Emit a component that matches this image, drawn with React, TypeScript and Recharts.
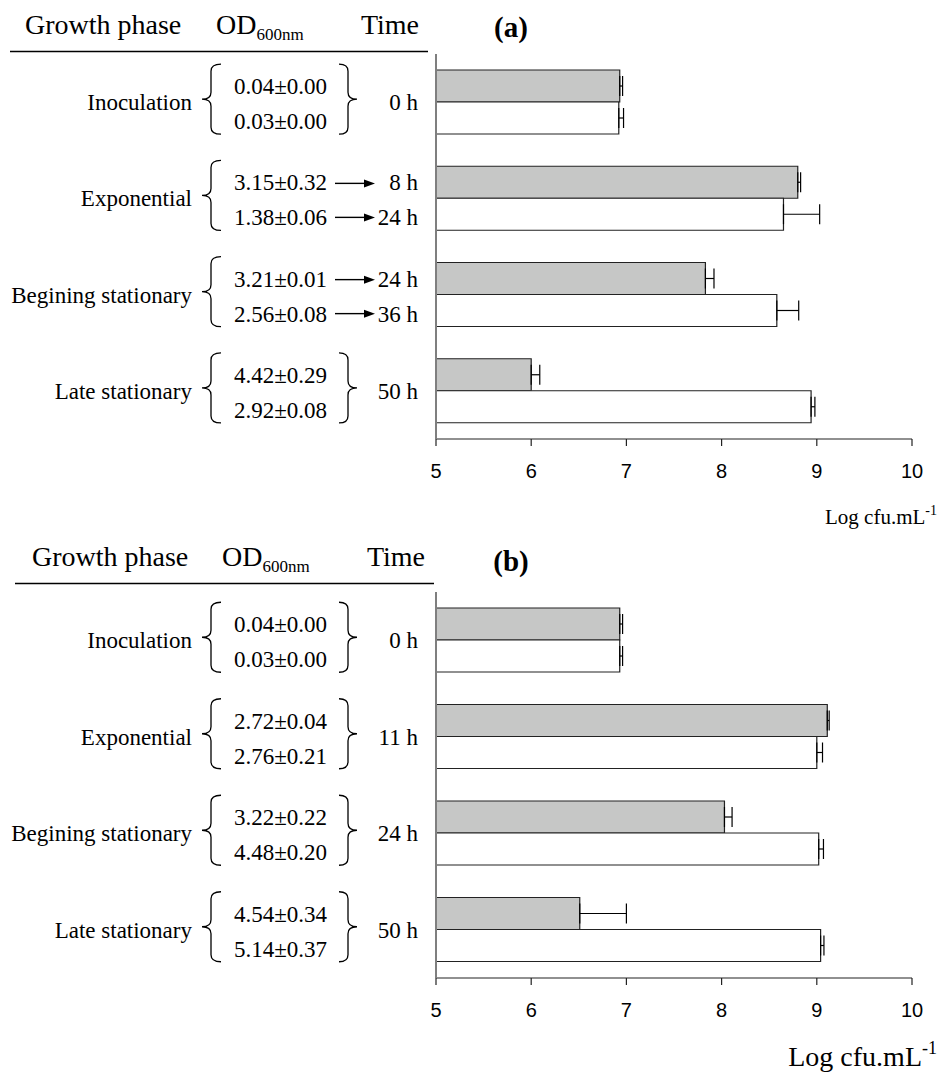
import React from 'react';
import { BarChart, Bar, XAxis, YAxis, ErrorBar } from 'recharts';

// ---------- data ----------
const phases = ['Inoculation', 'Exponential', 'Begining stationary', 'Late stationary'];
const xTicks = [5, 6, 7, 8, 9, 10];

// panel (a)
const odA1 = ['0.04±0.00', '3.15±0.32', '3.21±0.01', '4.42±0.29'];
const odA2 = ['0.03±0.00', '1.38±0.06', '2.56±0.08', '2.92±0.08'];
const timeA1 = ['0 h', '8 h', '24 h', '50 h'];
const timeA2 = ['0 h', '24 h', '36 h', '50 h'];
const grayA = [6.93, 8.8, 7.83, 6.0];
const grayErrA = [0.03, 0.03, 0.09, 0.09];
const whiteA = [6.92, 8.65, 8.58, 8.94];
const whiteErrA = [0.05, 0.38, 0.23, 0.04];

// panel (b)
const odB1 = ['0.04±0.00', '2.72±0.04', '3.22±0.22', '4.54±0.34'];
const odB2 = ['0.03±0.00', '2.76±0.21', '4.48±0.20', '5.14±0.37'];
const timeB1 = ['0 h', '11 h', '24 h', '50 h'];
const timeB2 = ['0 h', '11 h', '24 h', '50 h'];
const grayB = [6.93, 9.11, 8.03, 6.51];
const grayErrB = [0.03, 0.02, 0.08, 0.49];
const whiteB = [6.93, 9.0, 9.02, 9.04];
const whiteErrB = [0.03, 0.06, 0.05, 0.035];

const SERIF = '"Liberation Serif", "Times New Roman", serif';
const SANS = '"Liberation Sans", Arial, sans-serif';

function buildRows(gray: number[], grayErr: number[], white: number[], whiteErr: number[]) {
  return phases.map((p, i) => ({
    phase: p,
    gray: gray[i],
    grayErr: [0, grayErr[i]],
    white: white[i],
    whiteErr: [0, whiteErr[i]],
  }));
}

function bracePath(hookX: number, stemX: number, tipX: number, y0: number, y1: number) {
  const ym = (y0 + y1) / 2;
  const r = 7;
  return `M${hookX},${y0} Q${stemX},${y0} ${stemX},${y0 + r} L${stemX},${ym - r} Q${stemX},${ym} ${tipX},${ym} Q${stemX},${ym} ${stemX},${ym + r} L${stemX},${y1 - r} Q${stemX},${y1} ${hookX},${y1}`;
}

function Arrow({ y }: { y: number }) {
  const x0 = 335;
  const x1 = 375;
  return (
    <g>
      <line x1={x0} y1={y} x2={x1 - 8} y2={y} stroke="#000" strokeWidth={1.4} />
      <polygon points={`${x1},${y} ${x1 - 11},${y - 4} ${x1 - 11},${y + 4}`} fill="#000" />
    </g>
  );
}

function makeTick(od1: string[], od2: string[], t1: string[], t2: string[]) {
  return (props: any) => {
    const { payload } = props;
    const i = phases.indexOf(payload.value);
    const c = typeof props.y === 'number' ? props.y : payload.coordinate;
    const same = t1[i] === t2[i];
    const ts = { fontFamily: SERIF, fontSize: 23, fill: '#000' } as const;
    return (
      <g>
        <text x={192} y={c + 8} textAnchor="end" {...ts}>{phases[i]}</text>
        <path d={bracePath(221, 211, 202, c - 38, c + 32)} fill="none" stroke="#000" strokeWidth={1.3} />
        <text x={234} y={c - 8} {...ts}>{od1[i]}</text>
        <text x={234} y={c + 27} {...ts}>{od2[i]}</text>
        {same ? (
          <g>
            <path d={bracePath(339, 348, 357, c - 38, c + 32)} fill="none" stroke="#000" strokeWidth={1.3} />
            <text x={418} y={c + 8} textAnchor="end" {...ts}>{t1[i]}</text>
          </g>
        ) : (
          <g>
            <Arrow y={c - 15} />
            <Arrow y={c + 19} />
            <text x={418} y={c - 8} textAnchor="end" {...ts}>{t1[i]}</text>
            <text x={418} y={c + 27} textAnchor="end" {...ts}>{t2[i]}</text>
          </g>
        )}
      </g>
    );
  };
}

function Panel(props: {
  rows: any[];
  od1: string[];
  od2: string[];
  t1: string[];
  t2: string[];
  top: number;
  height: number;
  mt: number;
  mb: number;
}) {
  const { rows, od1, od2, t1, t2, top, height, mt, mb } = props;
  return (
    <div style={{ position: 'absolute', left: 0, top }}>
      <BarChart
        width={939}
        height={height}
        data={rows}
        layout="vertical"
        margin={{ top: mt, right: 27, bottom: mb, left: 435 }}
        barGap={0}
        barSize={32}
      >
        <XAxis
          type="number"
          domain={[5, 10]}
          ticks={xTicks}
          allowDataOverflow
          interval={0}
          height={30}
          tickSize={7}
          tickMargin={18}
          axisLine={{ stroke: '#222', strokeWidth: 1.2 }}
          tickLine={{ stroke: '#222', strokeWidth: 1.2 }}
          tick={{ fill: '#000', fontSize: 20, fontFamily: SANS }}
        />
        <YAxis
          type="category"
          dataKey="phase"
          width={1}
          interval={0}
          axisLine={{ stroke: '#7f7f7f', strokeWidth: 2 }}
          tickLine={false}
          tick={makeTick(od1, od2, t1, t2)}
        />
        <Bar dataKey="gray" fill="#c6c7c6" stroke="#222" strokeWidth={1.2} isAnimationActive={false}>
          <ErrorBar dataKey="grayErr" direction="x" width={10} stroke="#000" strokeWidth={1.2} isAnimationActive={false} />
        </Bar>
        <Bar dataKey="white" fill="#ffffff" stroke="#222" strokeWidth={1.2} isAnimationActive={false}>
          <ErrorBar dataKey="whiteErr" direction="x" width={10} stroke="#000" strokeWidth={1.2} isAnimationActive={false} />
        </Bar>
      </BarChart>
    </div>
  );
}

function Header({ dy, lx0, lx1, gx, odx, tx, tag, tagY }: any) {
  const ts = { fontFamily: SERIF, fill: '#000' } as const;
  return (
    <g>
      <text x={gx} y={dy} fontSize={28} {...ts}>Growth phase</text>
      <text x={odx} y={dy} fontSize={28} {...ts}>
        OD<tspan fontSize={17} dy={6}>600nm</tspan>
      </text>
      <text x={tx} y={dy} fontSize={28} textAnchor="end" {...ts}>Time</text>
      <line x1={lx0} x2={lx1} y1={dy + 17.5} y2={dy + 17.5} stroke="#000" strokeWidth={1.3} />
      <text x={511} y={tagY} fontSize={29} fontWeight="bold" textAnchor="middle" {...ts}>{tag}</text>
    </g>
  );
}

export default function App() {
  const rowsA = buildRows(grayA, grayErrA, whiteA, whiteErrA);
  const rowsB = buildRows(grayB, grayErrB, whiteB, whiteErrB);
  return (
    <div style={{ position: 'absolute', left: 0, top: 0, width: 939, height: 1074, background: '#fff', overflow: 'hidden' }}>
      <Panel rows={rowsA} od1={odA1} od2={odA2} t1={timeA1} t2={timeA2} top={0} height={540} mt={54} mb={71} />
      <Panel rows={rowsB} od1={odB1} od2={odB2} t1={timeB1} t2={timeB2} top={540} height={534} mt={52} mb={66} />
      <svg width={939} height={1074} style={{ position: 'absolute', left: 0, top: 0, pointerEvents: 'none' }}>
        <Header dy={34} lx0={10} lx1={428} gx={25} odx={216} tx={419} tag="(a)" tagY={37} />
        <Header dy={566} lx0={15} lx1={434} gx={32} odx={222} tx={425} tag="(b)" tagY={571} />
        <text x={937} y={524} fontSize={21} textAnchor="end" fontFamily={SERIF} fill="#000">
          Log cfu.mL<tspan fontSize={14} dy={-9}>-1</tspan>
        </text>
        <text x={937} y={1066} fontSize={28} textAnchor="end" fontFamily={SERIF} fill="#000">
          Log cfu.mL<tspan fontSize={18} dy={-12}>-1</tspan>
        </text>
      </svg>
    </div>
  );
}
